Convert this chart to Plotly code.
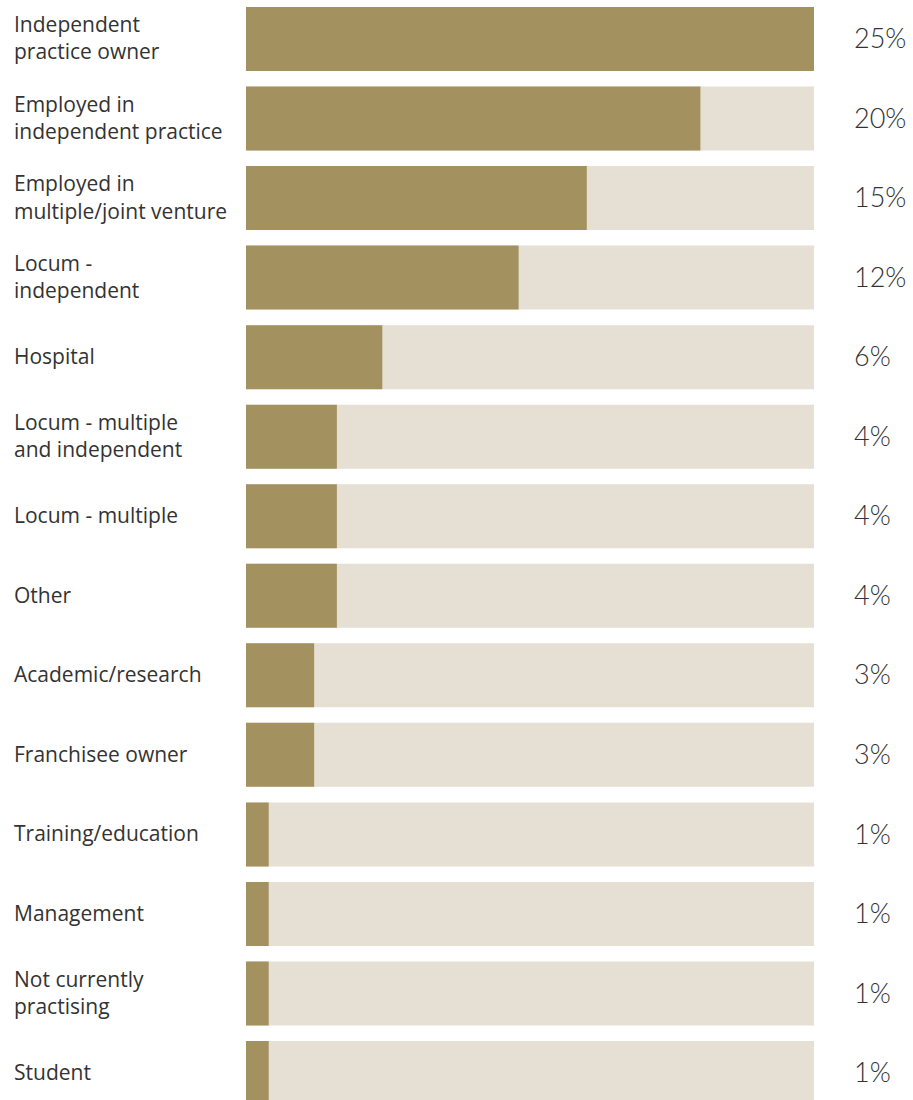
import plotly.graph_objects as go

categories = [
    "Independent<br>practice owner",
    "Employed in<br>independent practice",
    "Employed in<br>multiple/joint venture",
    "Locum -<br>independent",
    "Hospital",
    "Locum - multiple<br>and independent",
    "Locum - multiple",
    "Other",
    "Academic/research",
    "Franchisee owner",
    "Training/education",
    "Management",
    "Not currently<br>practising",
    "Student",
]
values = [25, 20, 15, 12, 6, 4, 4, 4, 3, 3, 1, 1, 1, 1]
pct_labels = [f"{v}%" for v in values]

W, H = 913, 1100
bar_left_px, bar_right_px = 246, 814
vmax = max(values)
px_per_unit = (bar_right_px - bar_left_px) / vmax
x0 = -bar_left_px / px_per_unit
x1 = (W - bar_left_px) / px_per_unit

pitch = 79.54
first_center = 39
y_top = -first_center / pitch
y_bottom = y_top + H / pitch

idx = list(range(len(categories)))
fill_color = "#A39260"
track_color = "#E6DFD3"
text_color = "#333333"

fig = go.Figure()
fig.add_trace(go.Bar(
    y=idx, x=[vmax] * len(values), orientation="h",
    marker=dict(color=track_color, line=dict(width=0)),
    width=64 / pitch, hoverinfo="skip", showlegend=False,
))
fig.add_trace(go.Bar(
    y=idx, x=values, orientation="h",
    marker=dict(color=fill_color, line=dict(width=0)),
    width=64 / pitch, showlegend=False,
))
fig.add_trace(go.Scatter(
    y=[i + 0.02 for i in idx], x=[(14 - bar_left_px) / px_per_unit] * len(idx),
    mode="text", text=categories, textposition="middle right",
    textfont=dict(family="Open Sans", size=21, color=text_color, weight=400),
    hoverinfo="skip", showlegend=False, cliponaxis=False,
))
fig.add_trace(go.Scatter(
    y=[i + 0.03 for i in idx], x=[(854 - bar_left_px) / px_per_unit] * len(idx),
    mode="text", text=pct_labels, textposition="middle right",
    textfont=dict(family="Lato", size=27, color=text_color, weight=300),
    hoverinfo="skip", showlegend=False, cliponaxis=False,
))

fig.update_layout(
    width=W, height=H,
    margin=dict(l=0, r=0, t=0, b=0),
    barmode="overlay",
    paper_bgcolor="white", plot_bgcolor="white",
    xaxis=dict(range=[x0, x1], visible=False, fixedrange=True),
    yaxis=dict(range=[y_bottom, y_top], visible=False, fixedrange=True),
)
fig.write_html("out.html")
